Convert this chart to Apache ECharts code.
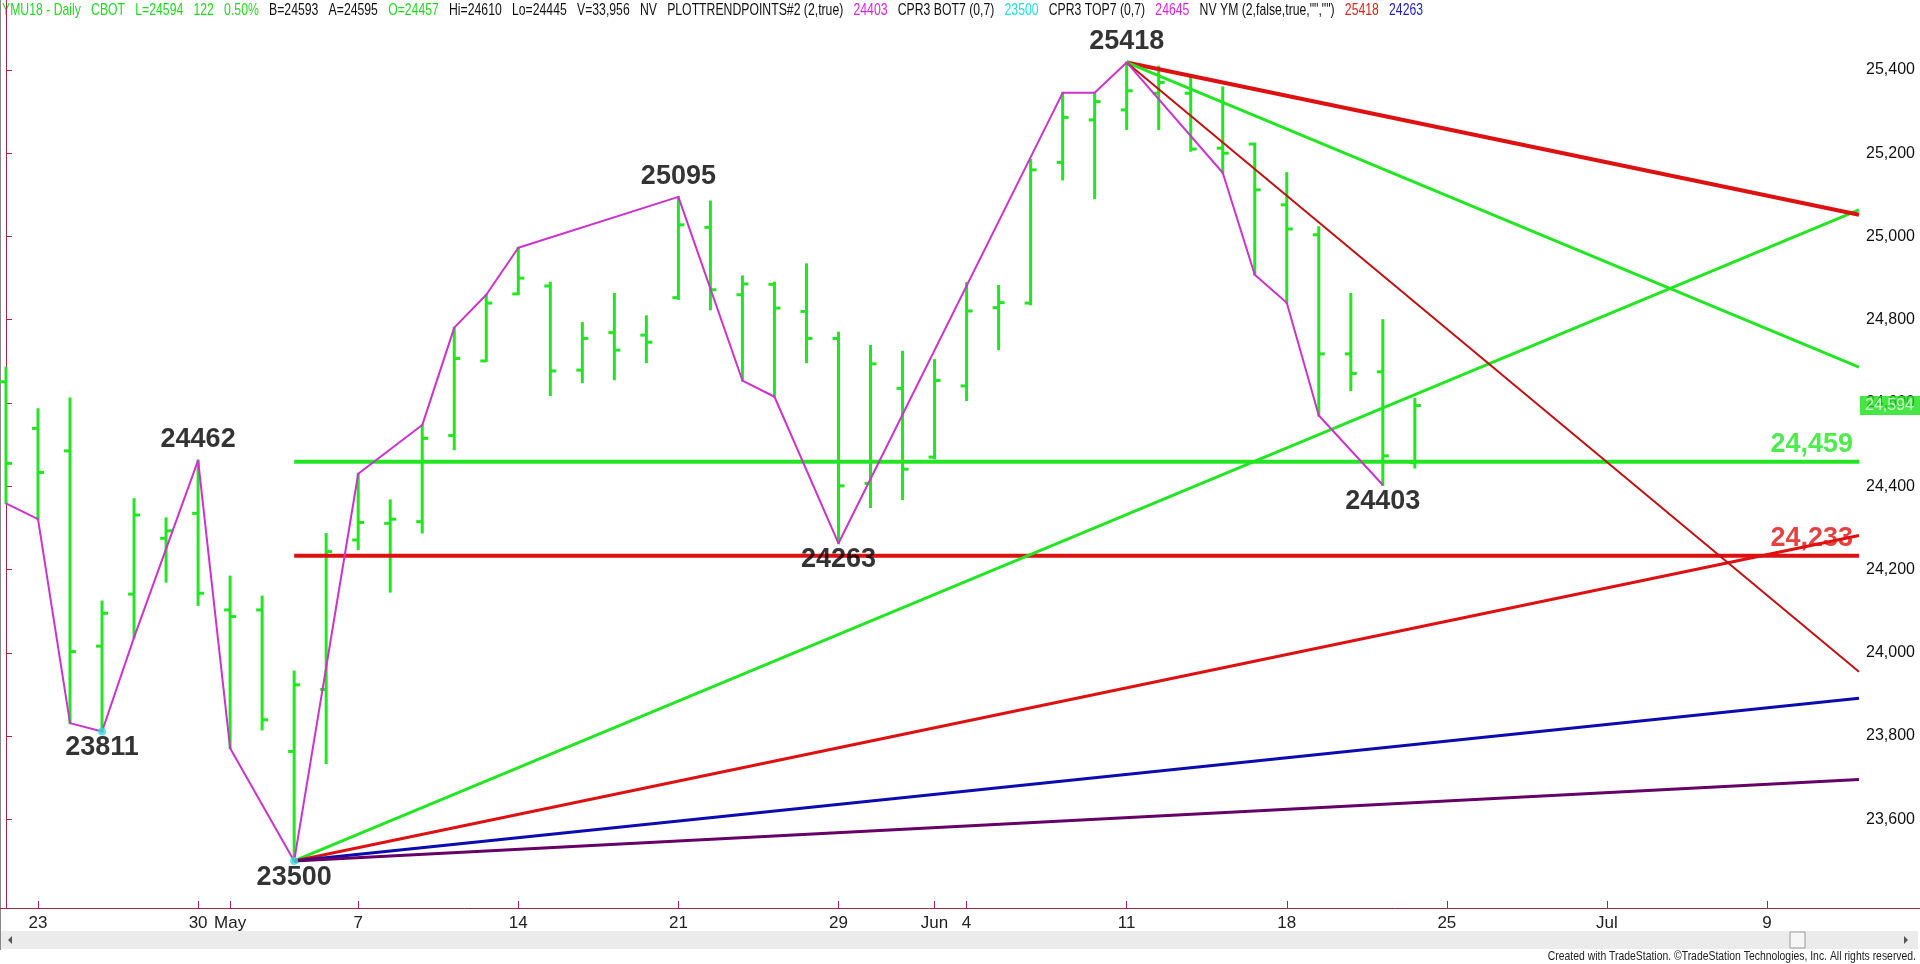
<!DOCTYPE html>
<html>
<head>
<meta charset="utf-8">
<script src="https://cdn.jsdelivr.net/npm/echarts@6/dist/echarts.min.js"></script>
<style>
    html, body { margin: 0; padding: 0; background: #fff; }
    #main { width: 1920px; height: 964px; }
</style>
</head>
<body>
<div id="main"></div>
<script>
// trading days on the axis (incl. empty future days)
const days = ['04-20','04-23','04-24','04-25','04-26','04-27','04-30','05-01','05-02','05-03','05-04',
    '05-07','05-08','05-09','05-10','05-11','05-14','05-15','05-16','05-17','05-18',
    '05-21','05-22','05-23','05-24','05-25','05-29','05-30','05-31','06-01',
    '06-04','06-05','06-06','06-07','06-08','06-11','06-12','06-13','06-14','06-15',
    '06-18','06-19','06-20','06-21','06-22','06-25','06-26','06-27','06-28','06-29',
    '07-02','07-03','07-04','07-05','07-06','07-09','07-10','07-11'];

const tickDays   = ['04-23','04-30','05-01','05-07','05-14','05-21','05-29','06-01','06-04','06-11','06-18','06-25','07-02','07-09'];
const tickLabels = ['23','30','May','7','14','21','29','Jun','4','11','18','25','Jul','9'];
const priceTicks = [23600, 23800, 24000, 24200, 24400, 24600, 24800, 25000, 25200, 25400];

// daily OHLC, YM Sep 2018
const opens  = [24651,24539,24485,24016,24141,24275,24335,24103,24103,23763,23912,24271,24311,24315,24522,24701,24862,24881,24679,24769,24763,24853,25022,24860,24885,24820,24755,24407,24635,24470,24641,24829,24840,25178,25280,25304,25344,25344,25212,25222,25076,25004,24718,24675,24457];
const highs  = [24685,24585,24611,24123,24369,24323,24462,24183,24135,23955,24285,24430,24366,24547,24781,24860,24973,24889,24792,24862,24808,25095,25084,24904,24889,24933,24769,24737,24723,24703,24888,24881,25184,25345,25345,25418,25408,25384,25358,25223,25152,25022,24862,24799,24610];
const lows   = [24359,24321,23831,23811,24037,24171,24115,23771,23816,23500,23735,24249,24147,24289,24489,24701,24862,24619,24650,24657,24698,24850,24825,24654,24615,24698,24263,24350,24369,24467,24607,24729,24837,25137,25092,25258,25258,25206,25153,24908,24841,24570,24631,24403,24445];
const closes = [24455,24433,24003,24095,24331,24293,24143,24087,23839,23923,24243,24313,24321,24515,24707,24840,24900,24677,24755,24727,24746,25028,24872,24886,24828,24755,24401,24694,24441,24654,24821,24841,25160,25286,25324,25350,25370,25210,25200,25112,25018,24718,24671,24473,24594];

// swing line (PLOTTRENDPOINTS)
const swingDays   = ['04-20','04-23','04-24','04-25','04-26','04-30','05-01','05-03','05-07','05-09','05-10','05-11','05-14','05-21','05-23','05-24','05-29','06-07','06-08','06-11','06-14','06-15','06-18','06-19','06-21'];
const swingValues = [24359,24321,23831,23811,24037,24462,23771,23500,24430,24547,24781,24860,24973,25095,24654,24615,24263,25345,25345,25418,25153,24908,24841,24570,24403];

// labelled pivots
const topPivotDays = ['04-30','05-21','06-11'];
const topPivotValues = [24462, 25095, 25418];
const lowPivotDays = ['04-25','05-03','05-29','06-21'];
const lowPivotValues = [23811, 23500, 24263, 24403];
const cyanDays = ['04-25','05-03'];
const cyanValues = [23811, 23500];

// gann fans
const lowFanDay = '05-03', lowFanValue = 23500;
const lowFanSlopes = [32, 16, 8, 4];
const lowFanColors = ['#22e622', '#dd1111', '#0b0bb0', '#660066'];
const highFanDay = '06-11', highFanValue = 25418;
const highFanSlopes = [-16, -32, -64];
const highFanColors = ['#dd1111', '#22e622', '#c01010'];
const highFanWidths = [4, 3, 2];

// horizontal levels
const levelValues = [24459, 24233];
const levelLabels = ['24,459', '24,233'];
const levelColors = ['#22e622', '#dd1111'];

const header = [
    ['YMU18 - Daily   CBOT   L=24594   122   0.50%   ', 'g'],
    ['B=24593   A=24595   ', 'k'],
    ['O=24457   ', 'g'],
    ['Hi=24610   Lo=24445   V=33,956   NV   PLOTTRENDPOINTS#2 (2,true)   ', 'k'],
    ['24403   ', 'm'],
    ['CPR3 BOT7 (0,7)   ', 'k'],
    ['23500   ', 'c'],
    ['CPR3 TOP7 (0,7)   ', 'k'],
    ['24645   ', 'm'],
    ['NV YM (2,false,true,"","")   ', 'k'],
    ['25418   ', 'r'],
    ['24263', 'b']
];

const barColor = '#22e622';
const axisColor = '#a8283c';
const font = '"Liberation Sans", Arial, sans-serif';

// x is the trading day index; range chosen so a day is ~32px wide
const xMin = -0.187;
const xMax = 57.871;
const idx = d => days.indexOf(d);
const lastClose = closes[closes.length - 1];

const bars = opens.map((o, i) => [i, o, highs[i], lows[i], closes[i]]);

function renderBar(params, api) {
    const x = api.value(0);
    const o = api.coord([x, api.value(1)]);
    const h = api.coord([x, api.value(2)]);
    const l = api.coord([x, api.value(3)]);
    const c = api.coord([x, api.value(4)]);
    const style = { stroke: barColor, lineWidth: 3 };
    return {
        type: 'group',
        children: [
            { type: 'line', shape: { x1: h[0], y1: h[1] - 1, x2: l[0], y2: l[1] + 1 }, style },
            { type: 'line', shape: { x1: o[0] - 6, y1: o[1], x2: o[0], y2: o[1] }, style },
            { type: 'line', shape: { x1: c[0], y1: c[1], x2: c[0] + 6, y2: c[1] }, style }
        ]
    };
}

function lineSeries(data, color, width, z) {
    return {
        type: 'line', data, symbol: 'none', silent: true, z: z || 3,
        lineStyle: { color, width }, animation: false
    };
}

function fan(day, value, slope) {
    const s = idx(day);
    return [[s, value], [xMax, value + slope * (xMax - s)]];
}

const series = [
    { type: 'custom', renderItem: renderBar, data: bars, encode: { x: 0, y: [1, 2, 3, 4] }, z: 2, silent: true, animation: false }
];

levelValues.forEach((v, i) => {
    series.push(lineSeries([[idx(lowFanDay), v], [xMax, v]], levelColors[i], 4, 3));
    series.push({
        type: 'scatter', symbolSize: 0, clip: false, silent: true, z: 6,
        data: [[xMax, v]],
        label: {
            show: true, position: 'top', align: 'right', offset: [-6, 0], distance: 4,
            formatter: levelLabels[i], color: levelColors[i],
            fontFamily: font, fontWeight: 'bold', fontSize: 27
        }
    });
});

lowFanSlopes.forEach((s, i) => series.push(lineSeries(fan(lowFanDay, lowFanValue, s), lowFanColors[i], 3, 4)));
highFanSlopes.forEach((s, i) => series.push(lineSeries(fan(highFanDay, highFanValue, s), highFanColors[i], highFanWidths[i], 4)));

// swing line
series.push(lineSeries(swingDays.map((d, i) => [idx(d), swingValues[i]]), '#cc33cc', 2, 5));

// last price box on the price scale
series.push({
    type: 'scatter', symbolSize: 0, clip: false, silent: true, z: 8,
    data: [[xMax, lastClose]],
    label: {
        show: true, position: 'right', distance: 1,
        formatter: p => p.value[1].toLocaleString('en-US'),
        backgroundColor: '#19e019', color: '#f4fff4',
        padding: [2, 7, 1, 5], fontFamily: font, fontSize: 16
    }
});

series.push({
    type: 'scatter', symbolSize: 8, silent: true, z: 6,
    itemStyle: { color: '#33dddd' },
    data: cyanDays.map((d, i) => [idx(d), cyanValues[i]])
});

const pivotLabel = (pos, dist) => ({
    show: true, position: pos, distance: dist,
    formatter: p => String(p.value[1]),
    color: '#000', fontFamily: font, fontWeight: 'bold', fontSize: 27
});
series.push({
    type: 'scatter', symbolSize: 0, silent: true, z: 7, clip: false,
    data: topPivotDays.map((d, i) => [idx(d), topPivotValues[i]]),
    label: pivotLabel('top', 7)
});
series.push({
    type: 'scatter', symbolSize: 0, silent: true, z: 7, clip: false,
    data: lowPivotDays.map((d, i) => [idx(d), lowPivotValues[i]]),
    label: pivotLabel('bottom', 3)
});

const tickIdx = tickDays.map(idx);

const option = {
    backgroundColor: '#fff',
    animation: false,
    grid: { left: 0, right: 61, top: 0, bottom: 56 },
    xAxis: {
        type: 'value', min: xMin, max: xMax,
        splitLine: { show: false },
        axisLine: { show: true, lineStyle: { color: axisColor, width: 1 } },
        axisTick: { show: true, inside: true, length: 7, customValues: tickIdx, lineStyle: { color: axisColor } },
        axisLabel: {
            customValues: tickIdx, margin: 7,
            formatter: v => tickLabels[tickIdx.indexOf(Math.round(v))] || '',
            color: '#222', fontFamily: font, fontSize: 17
        }
    },
    yAxis: {
        type: 'value', position: 'right', min: 23387, max: 25568,
        splitLine: { show: false },
        axisLine: { show: true, lineStyle: { color: axisColor, width: 1 } },
        axisTick: { show: true, length: 6, customValues: priceTicks, lineStyle: { color: axisColor } },
        axisLabel: {
            customValues: priceTicks, margin: 7,
            formatter: v => v.toLocaleString('en-US'),
            color: '#111', fontFamily: font, fontSize: 16
        }
    },
    graphic: [
        {
            type: 'text', x: 2, y: 2, scaleX: 0.72, silent: true,
            style: {
                text: header.map(h => '{' + h[1] + '|' + h[0] + '}').join(''),
                font: '17px ' + font,
                rich: {
                    g: { fill: '#22d822' }, k: { fill: '#111' }, m: { fill: '#dd22dd' },
                    c: { fill: '#22dddd' }, r: { fill: '#dd2222' }, b: { fill: '#2222bb' }
                }
            }
        },
        // frame pieces
        { type: 'line', silent: true, shape: { x1: 0.5, y1: 0, x2: 0.5, y2: 950 }, style: { stroke: '#888', lineWidth: 1 } },
        { type: 'line', silent: true, shape: { x1: 1859, y1: 908.5, x2: 1920, y2: 908.5 }, style: { stroke: axisColor, lineWidth: 1 } },
        // scroll bar
        { type: 'rect', silent: true, shape: { x: 1, y: 931, width: 1917, height: 18 }, style: { fill: '#ebebeb' } },
        { type: 'rect', silent: true, shape: { x: 1790, y: 932, width: 15, height: 16 }, style: { fill: '#f6f6f6', stroke: '#999', lineWidth: 1 } },
        { type: 'polygon', silent: true, shape: { points: [[12, 936], [12, 944], [8, 940]] }, style: { fill: '#555' } },
        { type: 'polygon', silent: true, shape: { points: [[1904, 936], [1904, 944], [1908, 940]] }, style: { fill: '#555' } },
        {
            type: 'text', x: 1916, y: 950, scaleX: 0.8, silent: true,
            style: {
                text: 'Created with TradeStation. \u00A9TradeStation Technologies, Inc. All rights reserved.',
                align: 'right', font: '13px ' + font, fill: '#222'
            }
        }
    ],
    series
};

const chart = echarts.init(document.getElementById('main'));
chart.setOption(option);
</script>
</body>
</html>
